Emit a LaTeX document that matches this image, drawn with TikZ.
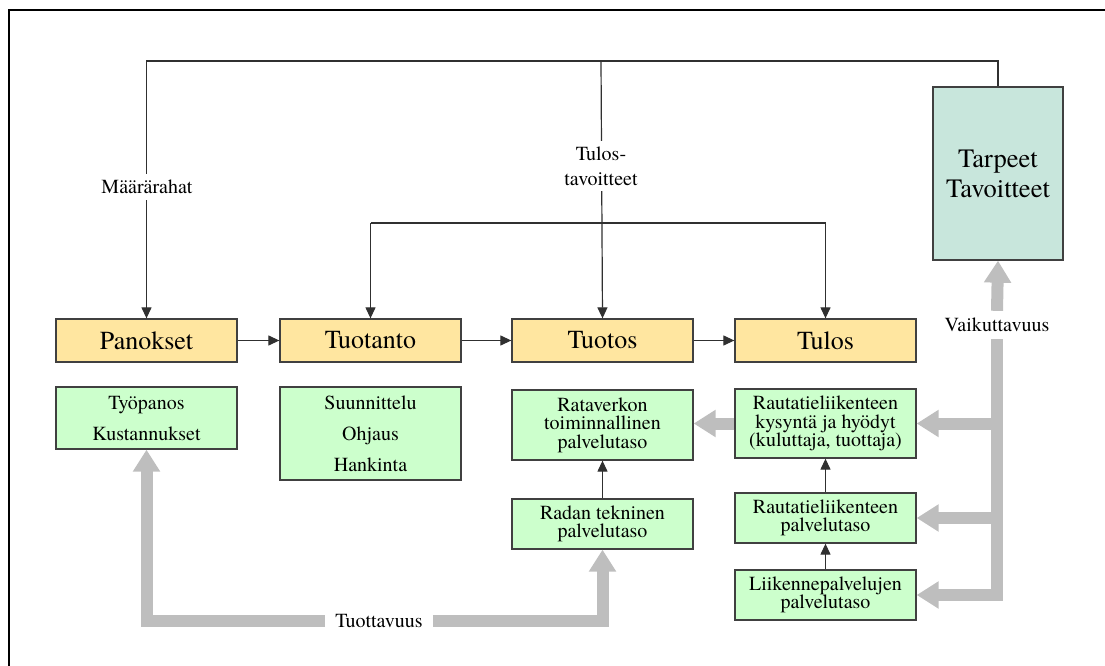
\documentclass[tikz,border=0pt]{standalone}
\usepackage{fontspec}
\newfontfamily\timesface{texgyretermes}[Extension=.otf, UprightFont=*-regular, BoldFont=*-bold]
\usetikzlibrary{arrows.meta}

\definecolor{boxline}{HTML}{404040}
\definecolor{linkline}{HTML}{303030}
\definecolor{phasefill}{HTML}{FFE6A0}
\definecolor{itemfill}{HTML}{CCFFCC}
\definecolor{goalfill}{HTML}{C8E6DC}
\definecolor{flowgray}{HTML}{BEBEBE}

\tikzset{
  every node/.style={font=\timesface},
  phase/.style={draw=boxline, line width=1.3pt, fill=phasefill,
    minimum width=181pt, minimum height=43pt, inner sep=0pt,
    font=\timesface\fontsize{26}{28}\selectfont},
  item/.style={draw=boxline, line width=1.3pt, fill=itemfill,
    minimum width=181pt, inner sep=0pt, align=center,
    font=\timesface\fontsize{20}{18.5}\selectfont},
  looseitem/.style={item, font=\timesface\fontsize{20}{31}\selectfont},
  goal/.style={draw=boxline, line width=1.3pt, fill=goalfill,
    minimum width=130pt, minimum height=173pt, inner sep=0pt, align=center,
    font=\timesface\fontsize{26.5}{30}\selectfont},
  link/.style={draw=linkline, line width=1.2pt,
    -{Triangle[length=11pt,width=10pt]}},
  plainlink/.style={draw=linkline, line width=1.2pt},
  flow/.style={draw=flowgray, line width=12pt, line join=miter,
    -{Triangle[length=22pt,width=26pt]}},
  tag/.style={fill=white, inner xsep=2pt, inner ysep=6pt, align=center,
    font=\timesface\fontsize{20}{25}\selectfont},
  flowtag/.style={inner xsep=10pt, inner ysep=7pt,
    font=\timesface\fontsize{20}{24}\selectfont}
}

\begin{document}
\begin{tikzpicture}[x=1pt, y=-1pt]
\useasboundingbox (0,0) rectangle (1105,666);

% frame
\draw[line width=2.2pt] (9,666) -- (9,10) -- (1105,10);

% needs and goals
\node[goal] (goal) at (998,173.5) {Tarpeet\\Tavoitteet};

% phases
\node[phase] (pan) at (146.5,340.5) {Panokset};
\node[phase] (prod) at (370.5,340.5) {Tuotanto};
\node[phase] (out) at (602.5,340.5) {Tuotos};
\node[phase] (res) at (825.5,340.5) {Tulos};

% contents of the phases
\node[looseitem, minimum height=62pt] (work) at (146.5,418) {Työpanos\\Kustannukset};
\node[looseitem, minimum height=93pt] (plan) at (370.5,433.5) {Suunnittelu\\Ohjaus\\Hankinta};
\node[item, minimum height=70pt] (net) at (602.5,425) {Rataverkon\\toiminnallinen\\palvelutaso};
\node[item, minimum height=50pt] (track) at (602.5,524) {Radan tekninen\\palvelutaso};
\node[item, minimum height=69pt] (dem) at (825.5,423.5) {Rautatieliikenteen\\kysyntä ja hyödyt\\(kuluttaja, tuottaja)};
\node[item, minimum height=50pt] (rail) at (825.5,518) {Rautatieliikenteen\\palvelutaso};
\node[item, minimum height=50pt] (serv) at (825.5,595) {Liikennepalvelujen\\palvelutaso};

% control lines from the goals
\coordinate (top) at (601,61);
\coordinate (mid) at (601,223);
\draw[link] (goal.north) |- (top) -| (pan.north);
\draw[link] (top) -- (out.north);
\draw[link] (prod.north |- mid) -- (prod.north);
\draw[plainlink] (prod.north |- mid) -- (res.north |- mid);
\draw[link] (res.north |- mid) -- (res.north);
\node[tag] (money) at (147,187) {Määrärahat};
\node[tag] (aims) at (601,166) {Tulos-\\tavoitteet};

% chain of phases
\draw[link] (pan.east) -- (prod.west);
\draw[link] (prod.east) -- (out.west);
\draw[link] (out.east) -- (res.west);

% service level links
\draw[link] (track.north) -- (net.south);
\draw[link] (rail.north) -- (dem.south);
\draw[link] (serv.north) -- (rail.south);

% effectiveness
\node[flowtag] (eff) at (997,325) {Vaikuttavuus};
\draw[flow] (eff.north) -- (goal.south);
\draw[flow] (eff.south) |- (serv.east);
\draw[flow] (eff.south |- dem.east) -- (dem.east);
\draw[flow] (eff.south |- rail.east) -- (rail.east);
\draw[flow] (dem.west) -- (net.east |- dem.west);

% productivity
\node[flowtag, inner ysep=0pt] (prodty) at (379,621) {Tuottavuus};
\draw[flow] (prodty.west) -| (work.south);
\draw[flow] (prodty.east) -| (track.south);
\end{tikzpicture}
\end{document}
